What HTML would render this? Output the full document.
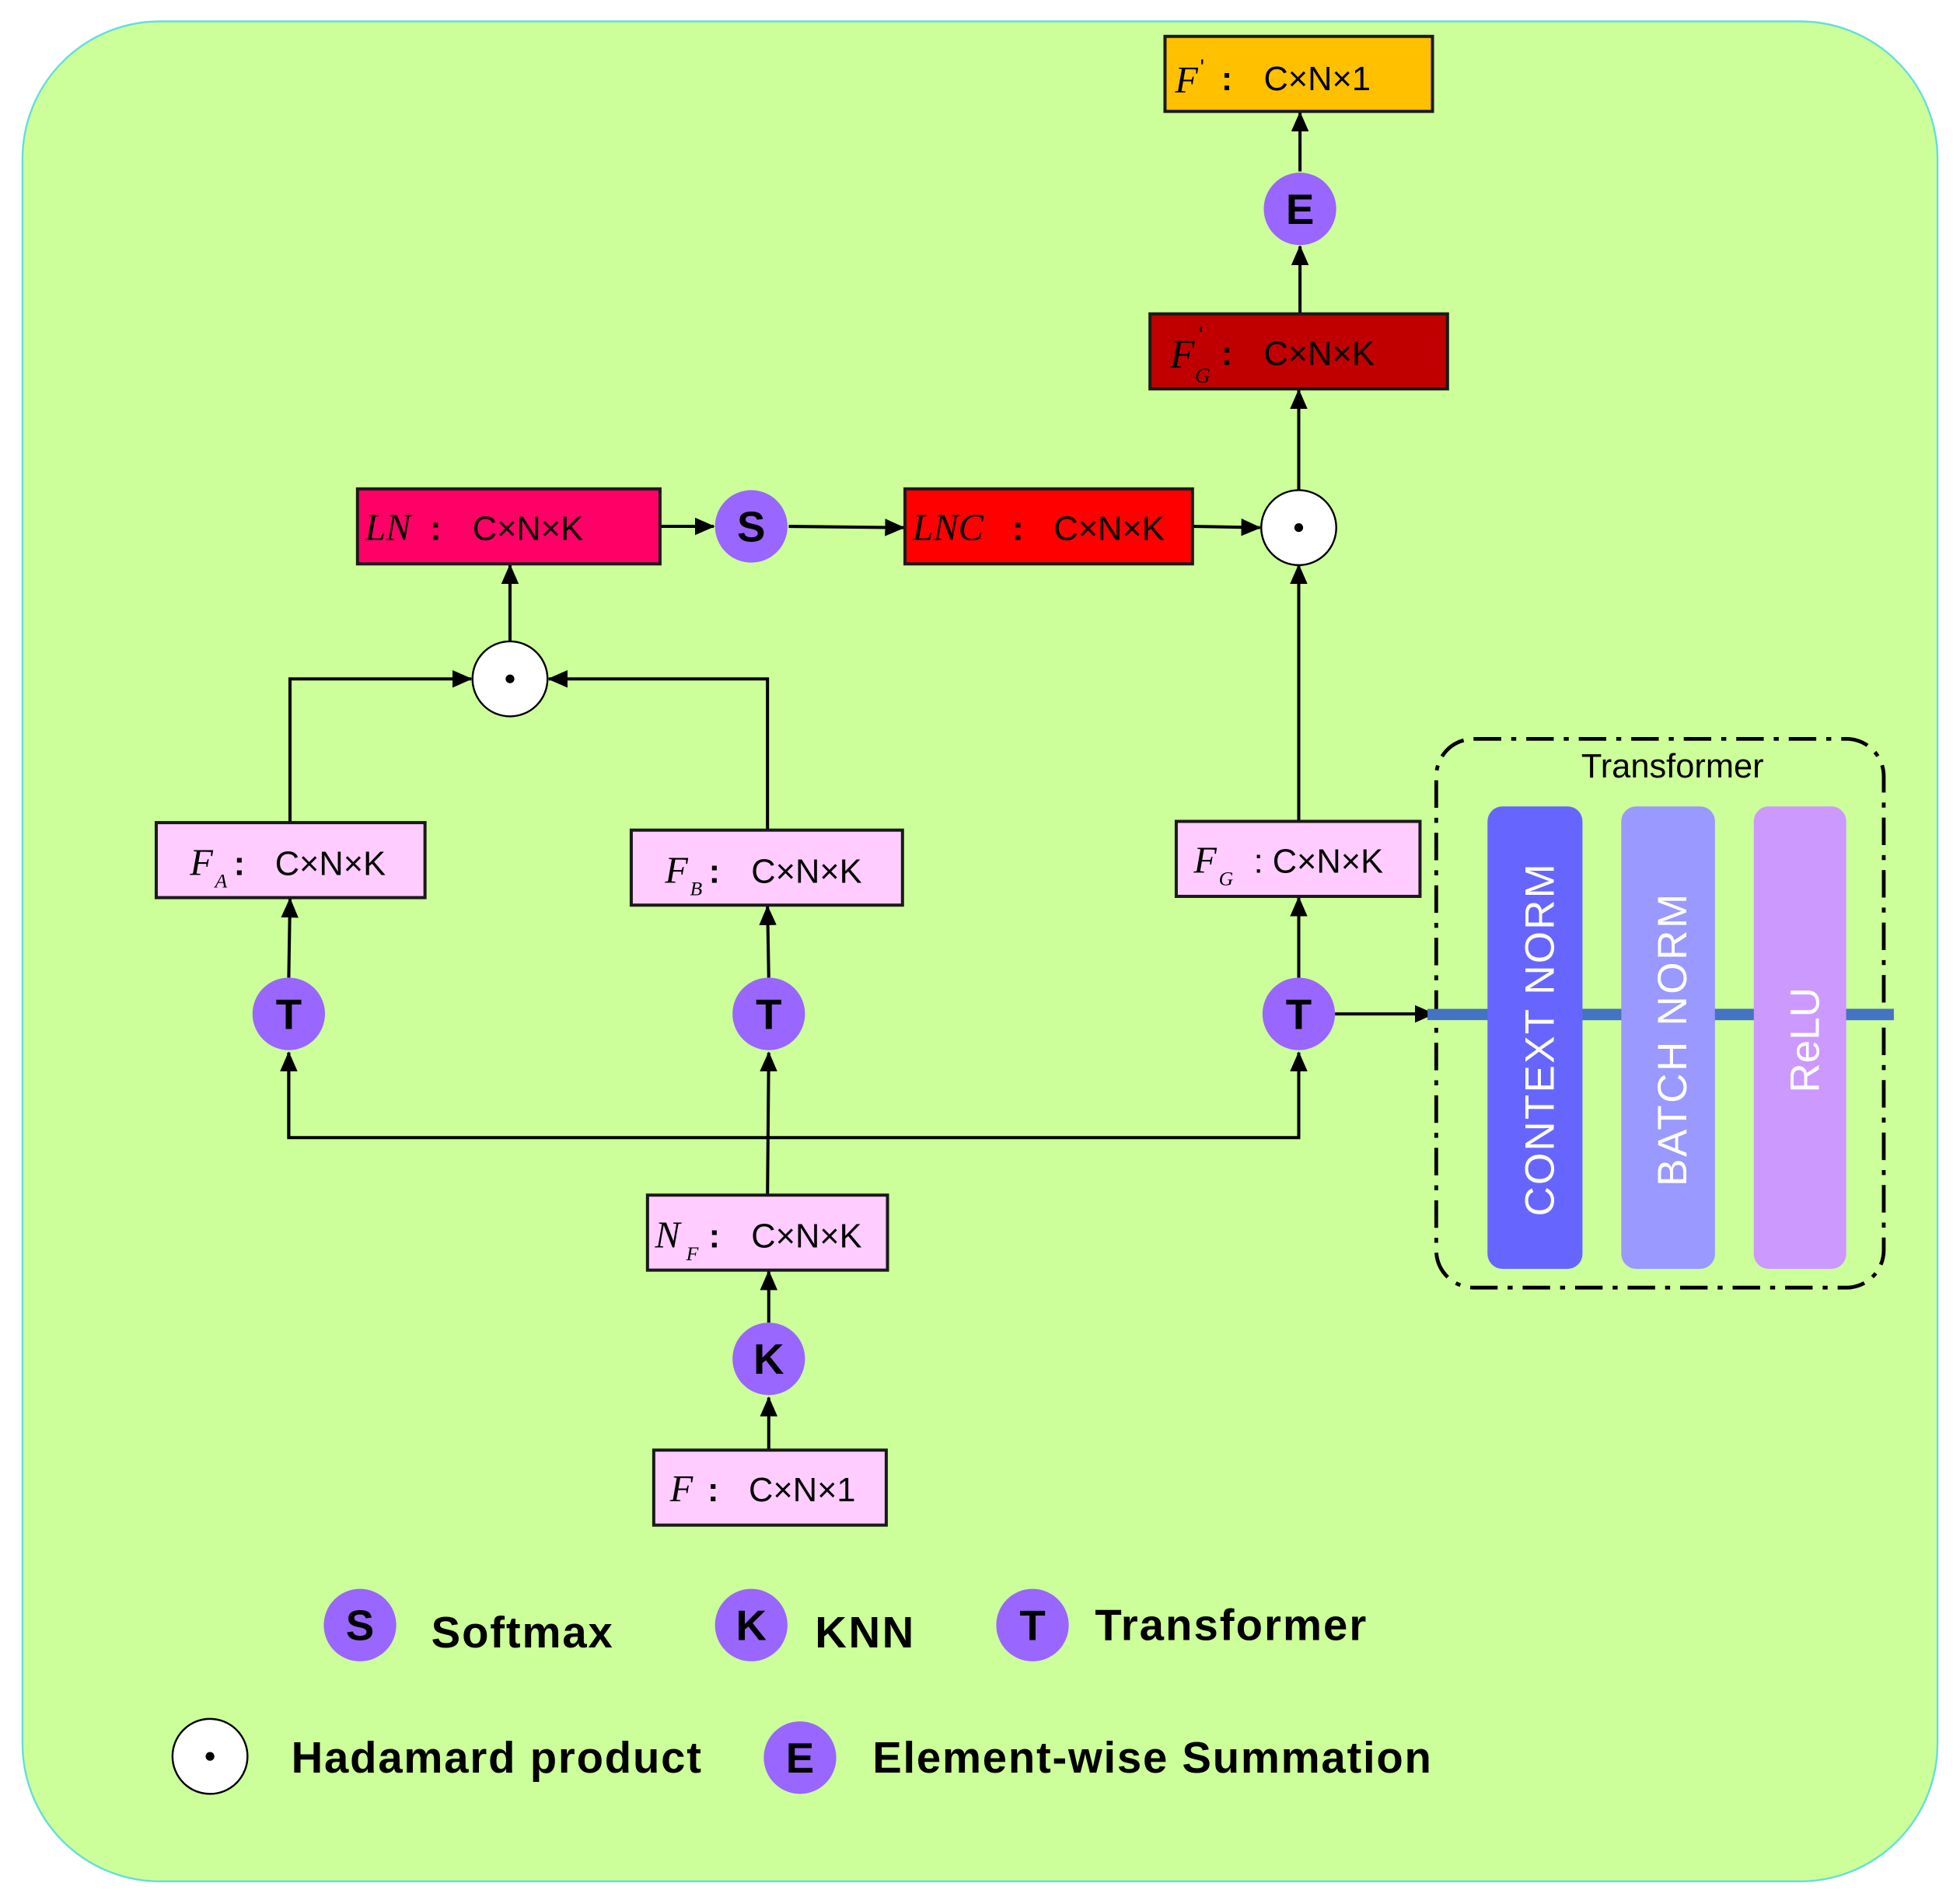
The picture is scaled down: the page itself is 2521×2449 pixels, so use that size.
<!DOCTYPE html>
<html><head><meta charset="utf-8"><style>
html,body{margin:0;padding:0;background:#fff;}
svg{display:block;}
text{font-family:"Liberation Sans",sans-serif;}
.m{font-family:"Liberation Serif",serif;font-style:italic;}
</style></head><body>
<svg width="2521" height="2449" viewBox="0 0 1568 1523" xmlns="http://www.w3.org/2000/svg">
<defs>
<marker id="a" markerWidth="16" markerHeight="14" refX="15" refY="7" orient="auto" markerUnits="userSpaceOnUse" viewBox="0 0 16 14">
<path d="M0,0 L16,7 L0,14 z" fill="#000"/></marker>
</defs>
<rect x="18" y="17" width="1532" height="1488" rx="110" fill="#ccff99" stroke="#66dddd" stroke-width="1.5"/>
<g stroke="#000" stroke-width="2.5" fill="none">
<line x1="615" y1="1160" x2="615" y2="1118" marker-end="url(#a)"/>
<line x1="615" y1="1058" x2="615" y2="1017" marker-end="url(#a)"/>
<line x1="614" y1="956" x2="615" y2="842" marker-end="url(#a)"/>
<polyline points="231,842 231,910 1039,910 1039,842"/>
<line x1="231" y1="910" x2="231" y2="842" marker-end="url(#a)"/>
<line x1="1039" y1="910" x2="1039" y2="842" marker-end="url(#a)"/>
<line x1="231" y1="782" x2="232" y2="719" marker-end="url(#a)"/>
<line x1="615" y1="782" x2="614" y2="725" marker-end="url(#a)"/>
<line x1="1039" y1="782" x2="1039" y2="718" marker-end="url(#a)"/>
<polyline points="232,658 232,543 377,543" marker-end="url(#a)"/>
<polyline points="614,664 614,543 439,543" marker-end="url(#a)"/>
<line x1="408" y1="513" x2="408" y2="452" marker-end="url(#a)"/>
<line x1="528" y1="421" x2="571" y2="421" marker-end="url(#a)"/>
<line x1="631" y1="421" x2="723" y2="422" marker-end="url(#a)"/>
<line x1="954" y1="421" x2="1008" y2="422" marker-end="url(#a)"/>
<polyline points="1039,657 1039,600 1039,452" marker-end="url(#a)"/>
<line x1="1039" y1="392" x2="1039" y2="312" marker-end="url(#a)"/>
<line x1="1040" y1="251" x2="1040" y2="197" marker-end="url(#a)"/>
<line x1="1040" y1="137" x2="1040" y2="90" marker-end="url(#a)"/>
<line x1="1068" y1="811" x2="1147" y2="811" marker-end="url(#a)"/>
</g>
<rect x="1149" y="591" width="358" height="439" rx="30" fill="none" stroke="#000" stroke-width="3" stroke-dasharray="22,8,4,8"/>
<text x="1338" y="622" font-size="27" text-anchor="middle">Transformer</text>
<rect x="1142" y="807" width="373" height="9" fill="#4472c4"/>
<rect x="1190" y="645" width="76" height="370" rx="12" fill="#6666ff"/>
<rect x="1297" y="645" width="75" height="370" rx="12" fill="#9999ff"/>
<rect x="1403" y="645" width="74" height="370" rx="12" fill="#cc99ff"/>
<rect x="1266" y="807" width="31" height="9" fill="#4472c4"/>
<rect x="1372" y="807" width="31" height="9" fill="#4472c4"/>
<rect x="1477" y="807" width="38" height="9" fill="#4472c4"/>
<g fill="#fff" font-size="33" text-anchor="middle">
<text transform="translate(1243,832) rotate(-90)" textLength="282">CONTEXT NORM</text>
<text transform="translate(1349,832) rotate(-90)" textLength="234">BATCH NORM</text>
<text transform="translate(1455,832) rotate(-90)">ReLU</text>
</g>
<g stroke="#1a1a1a" stroke-width="2.5">
<rect x="932" y="29" width="214" height="60" fill="#ffc000"/>
<rect x="920" y="251" width="238" height="60" fill="#c00000"/>
<rect x="286" y="391" width="242" height="60" fill="#ff0066"/>
<rect x="724" y="391" width="230" height="60" fill="#ff0000"/>
<rect x="125" y="658" width="215" height="60" fill="#ffccff"/>
<rect x="505" y="664" width="217" height="60" fill="#ffccff"/>
<rect x="941" y="657" width="195" height="60" fill="#ffccff"/>
<rect x="518" y="956" width="192" height="60" fill="#ffccff"/>
<rect x="523" y="1160" width="186" height="60" fill="#ffccff"/>
</g>
<g font-size="27">
<!-- F' -->
<text x="940" y="74" class="m" font-size="30">F</text><text x="960" y="60" font-size="18">'</text>
<text x="977" y="72" font-weight="bold">:</text><text x="1011" y="72">C×N×1</text>
<!-- F'G -->
<text x="936" y="294" class="m" font-size="32">F</text><text x="959" y="274" font-size="18">'</text>
<text x="956" y="306" class="m" font-size="17">G</text>
<text x="977" y="292" font-weight="bold">:</text><text x="1011" y="292">C×N×K</text>
<!-- LN -->
<text x="292" y="432" class="m" font-size="30">LN</text><text x="344" y="432" font-weight="bold">:</text><text x="378" y="432">C×N×K</text>
<!-- LNC -->
<text x="730" y="432" class="m" font-size="30">LNC</text><text x="810" y="432" font-weight="bold">:</text><text x="843" y="432">C×N×K</text>
<!-- FA -->
<text x="152" y="700" class="m" font-size="30">F</text><text x="172" y="710" class="m" font-size="16">A</text>
<text x="187" y="700" font-weight="bold">:</text><text x="220" y="700">C×N×K</text>
<!-- FB -->
<text x="532" y="706" class="m" font-size="30">F</text><text x="552" y="716" class="m" font-size="16">B</text>
<text x="567" y="706" font-weight="bold">:</text><text x="601" y="706">C×N×K</text>
<!-- FG -->
<text x="955" y="698" class="m" font-size="30">F</text><text x="975" y="708" class="m" font-size="16">G</text>
<text x="1003" y="698">: C×N×K</text>
<!-- NF -->
<text x="524" y="998" class="m" font-size="30">N</text><text x="549" y="1008" class="m" font-size="16">F</text>
<text x="567" y="998" font-weight="bold">:</text><text x="601" y="998">C×N×K</text>
<!-- F -->
<text x="536" y="1201" class="m" font-size="30">F</text><text x="566" y="1201" font-weight="bold">:</text><text x="599" y="1201">C×N×1</text>
</g>
<g fill="#9966ff">
<circle cx="1040" cy="167" r="29"/>
<circle cx="601" cy="421" r="29"/>
<circle cx="231" cy="811" r="29"/>
<circle cx="615" cy="811" r="29"/>
<circle cx="1039" cy="811" r="29"/>
<circle cx="615" cy="1087" r="29"/>
<circle cx="288" cy="1300" r="29"/>
<circle cx="601" cy="1300" r="29"/>
<circle cx="826" cy="1300" r="29"/>
<circle cx="640" cy="1406" r="29"/>
</g>
<g fill="#fff" stroke="#000" stroke-width="1.5">
<circle cx="1039" cy="422" r="30"/>
<circle cx="408" cy="543" r="30"/>
<circle cx="168" cy="1405" r="30"/>
</g>
<g fill="#000"><circle cx="1039" cy="422" r="3.5"/><circle cx="408" cy="543" r="3.5"/><circle cx="168" cy="1405" r="3.5"/></g>
<g font-size="34" font-weight="bold" text-anchor="middle">
<text x="1040" y="179">E</text>
<text x="601" y="433">S</text>
<text x="231" y="823">T</text>
<text x="615" y="823">T</text>
<text x="1039" y="823">T</text>
<text x="615" y="1099">K</text>
<text x="288" y="1312">S</text>
<text x="601" y="1312">K</text>
<text x="826" y="1312">T</text>
<text x="640" y="1418">E</text>
</g>
<g font-size="35" font-weight="bold">
<text x="345" y="1318" textLength="145">Softmax</text>
<text x="652" y="1318" textLength="79">KNN</text>
<text x="876" y="1312" textLength="217">Transformer</text>
<text x="233" y="1418" textLength="328">Hadamard product</text>
<text x="698" y="1418" textLength="447">Element-wise Summation</text>
</g>
</svg>
</body></html>
